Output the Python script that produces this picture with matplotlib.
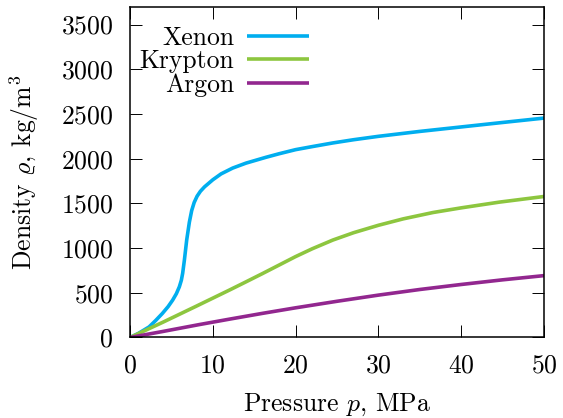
import matplotlib
matplotlib.use('Agg')
import matplotlib.pyplot as plt

plt.rcParams['font.family'] = 'cmr10'
plt.rcParams['mathtext.fontset'] = 'cm'
plt.rcParams['axes.formatter.use_mathtext'] = True

# isotherm data, pressure in MPa, density in kg/m^3
p_xenon = [0, 1.0, 2.3, 3.1, 3.9, 4.6, 5.15, 5.6, 5.96, 6.2, 6.36, 6.57, 6.85,
           7.17, 7.45, 7.75, 8.1, 8.5, 9.0, 10.0, 11.0, 12.4, 14.0, 16.4,
           18.0, 20.0, 22.0, 24.5, 27.0, 30.0, 35.0, 40.0, 45.0, 50.0]
rho_xenon = [0, 45, 118, 190, 268, 345, 418, 490, 567, 640, 718, 867, 1092,
             1290, 1420, 1510, 1580, 1635, 1685, 1764, 1830, 1895, 1950, 2015,
             2055, 2101, 2135, 2176, 2212, 2250, 2305, 2355, 2405, 2454]

p_krypton = [0, 4.0, 8.0, 10.0, 12.0, 14.0, 16.0, 18.0, 20.0, 22.0, 24.5,
             27.0, 30.0, 33.0, 36.6, 40.0, 44.6, 50.0]
rho_krypton = [0, 172, 350, 440, 530, 622, 715, 810, 905, 992, 1090,
               1172, 1255, 1327, 1398, 1450, 1514, 1577]

p_argon = [0, 4.0, 8.4, 12.0, 16.0, 20.0, 25.0, 30.0, 35.0, 40.0, 45.0, 50.0]
rho_argon = [0, 68, 145, 205, 270, 332, 405, 474, 537, 593, 645, 692]

labels = ['Xenon', 'Krypton', 'Argon']
colors = ['#00AEEF', '#8DC63F', '#92278F']

fig = plt.figure(figsize=(5.63, 4.18), dpi=100)
ax = fig.add_axes([0.2309, 0.1926, 0.7354, 0.7914])

series = [(p_xenon, rho_xenon), (p_krypton, rho_krypton), (p_argon, rho_argon)]
for (p, rho), lab, col in zip(series, labels, colors):
    ax.plot(p, rho, color=col, lw=2.6, label=lab, solid_capstyle='butt')

ax.set_xlim(0, 50)
ax.set_ylim(0, 3700)
ax.set_xticks(range(0, 51, 10))
ax.set_yticks(range(0, 3501, 500))

fs = 18.5
ax.tick_params(direction='in', length=8.5, width=0.7, top=True, right=True,
               labelsize=fs, pad=12)
for s in ax.spines.values():
    s.set_linewidth(1.1)

ax.set_xlabel(r'Pressure $p$, MPa', fontsize=fs, labelpad=10)
ax.set_ylabel(r'Density $\varrho$, kg/m$^3$', fontsize=fs, labelpad=14)

ax.legend(loc='upper right', bbox_to_anchor=(0.432, 0.942), frameon=False,
          markerfirst=False, fontsize=fs, handlelength=2.4, handletextpad=0.5,
          labelspacing=0.0, borderpad=0, borderaxespad=0)

fig.savefig('out.png', dpi=100)
